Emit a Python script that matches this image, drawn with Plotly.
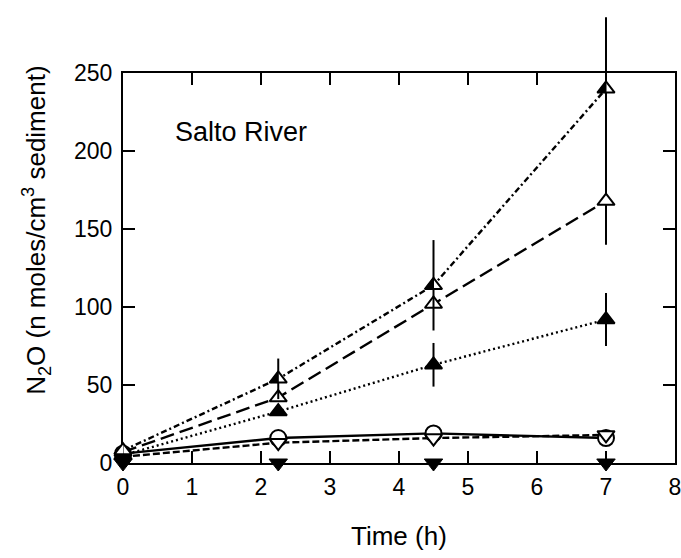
import plotly.graph_objects as go

# ---- data ----
time_h = [0, 2.25, 4.5, 7]

s1_vals = [8, 54, 114, 240]      # half-filled triangle, dash-dot
s1_err = [0, 13, 29, 46]
s2_vals = [7, 42, 102, 168]      # open triangle, long dash
s2_err = [0, 0, 0, 28]
s3_vals = [5, 33, 63, 92]        # filled triangle, dotted
s3_err = [0, 0, 14, 17]
s4_vals = [6, 16, 19, 16]        # open circle, solid
s5_vals = [4, 13, 16, 18]        # open inverted triangle, dashed
s6_vals = [0, 0, 0, 0]           # filled inverted triangle

x_ticks = [0, 1, 2, 3, 4, 5, 6, 7, 8]
y_ticks = [0, 50, 100, 150, 200, 250]

FONT = "Liberation Sans, Arial, Helvetica, sans-serif"
W, H = 681, 558
ML, MR, MT, MB = 123, 5, 0, 95
plot_h = H - MT - MB
frame_top_px = 62
ydom_top = (H - MB - frame_top_px) / plot_h
Y_MAX = 250
Y2_MAX = Y_MAX / ydom_top

MS = 15
LW = 2.4

fig = go.Figure()


def add(yv, symbol, dash, err=None, mcolor="white", size=MS):
    fig.add_trace(go.Scatter(
        x=time_h, y=yv, xaxis="x", yaxis="y2",
        mode="lines+markers",
        line=dict(color="black", width=LW, dash=dash),
        marker=dict(symbol=symbol, size=size, color=mcolor,
                    line=dict(color="black", width=2)),
        error_y=(dict(type="data", array=err, visible=True, color="black",
                      thickness=2, width=0) if err is not None else None),
        cliponaxis=False, showlegend=False,
    ))


add(s4_vals, "circle", "solid", size=MS + 1)
add(s5_vals, "triangle-down", "7px,3px")
fig.add_trace(go.Scatter(
    x=time_h, y=s6_vals, xaxis="x", yaxis="y2", mode="markers",
    marker=dict(symbol="triangle-down", size=MS + 1, color="black",
                line=dict(color="black", width=1)),
    cliponaxis=False, showlegend=False,
))
add(s3_vals, "triangle-up", "2px,3px", err=s3_err, mcolor="black")
add(s2_vals, "triangle-up", "14px,6px", err=s2_err)
add(s1_vals, "triangle-up", "6px,3px,2px,3px", err=s1_err)

# left half fill of the half-filled triangles (pixel-sized, anchored at data)
r = MS / 2
half_path = "M{:.2f},{:.2f}L0,{:.2f}L0,{:.2f}Z".format(-1.155 * r, -0.5 * r, -0.5 * r, r)
shapes = []
for xv, yv in zip(time_h, s1_vals):
    shapes.append(dict(
        type="path", xref="x", yref="y2", xsizemode="pixel", ysizemode="pixel",
        xanchor=xv, yanchor=yv, path=half_path,
        fillcolor="black", line=dict(color="black", width=1), layer="above",
    ))

axis_common = dict(
    showgrid=False, zeroline=False, showline=True, linecolor="black",
    linewidth=2, mirror="ticks", ticks="inside", ticklen=12, tickwidth=2,
    tickcolor="black", tickfont=dict(family=FONT, size=23, color="black"),
    ticklabeloverflow="allow",
)

fig.update_layout(
    width=W, height=H,
    margin=dict(l=ML, r=MR, t=MT, b=MB),
    paper_bgcolor="white", plot_bgcolor="rgba(0,0,0,0)",
    xaxis=dict(range=[0, 8], tickvals=x_ticks, anchor="y",
               ticklabelstandoff=2, **axis_common),
    yaxis=dict(range=[0, Y_MAX], tickvals=y_ticks, domain=[0, ydom_top],
               anchor="x", ticklabelstandoff=4, **axis_common),
    yaxis2=dict(range=[0, Y2_MAX], domain=[0, 1], anchor="x", visible=False),
    shapes=shapes,
    annotations=[
        dict(text="Salto River", x=0.72, y=212, xref="x", yref="y",
             xanchor="left", yanchor="middle", showarrow=False,
             font=dict(family=FONT, size=27, color="black")),
        dict(text="Time (h)", x=0.5, y=(H - MB - 538) / plot_h,
             xref="paper", yref="paper", xanchor="center", yanchor="middle",
             showarrow=False, font=dict(family=FONT, size=26, color="black")),
        dict(text="N<sub>2</sub>O (n moles/cm<sup>3</sup> sediment)",
             x=(36 - ML) / (W - ML - MR), y=(H - MB - 224) / plot_h,
             xref="paper", yref="paper", xanchor="center", yanchor="middle",
             textangle=-90, showarrow=False,
             font=dict(family=FONT, size=26, color="black")),
    ],
)

fig.write_html("out.html", config={"displayModeBar": False},
               post_script="document.body.style.margin='0px';")
